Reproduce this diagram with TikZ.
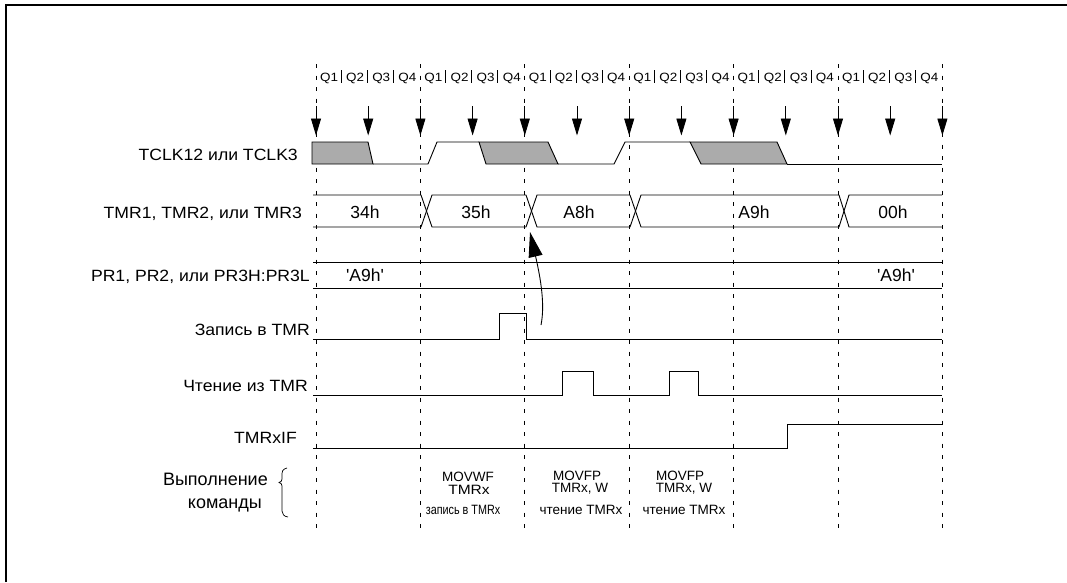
\documentclass[tikz,border=0pt]{standalone}
\usepackage{fontspec}
\setmainfont{Liberation Sans}
\newfontfamily\lblfont[FakeStretch=1.08]{Liberation Sans}
\newfontfamily\qfont[FakeStretch=1.12]{Liberation Sans}
\newfontfamily\instrwide[FakeStretch=1.15]{Liberation Sans}
\newfontfamily\instrnarrow[FakeStretch=0.8]{Liberation Sans}
\usetikzlibrary{arrows.meta}

\begin{document}
\begin{tikzpicture}[x=1pt,y=-1pt,
  lbl/.style={anchor=base east,inner sep=0pt,font=\lblfont\fontsize{16.3}{18}\selectfont},
  val/.style={anchor=base,inner sep=0pt,font=\fontsize{17.5}{19}\selectfont},
  qlbl/.style={anchor=base,inner sep=0pt,font=\qfont\fontsize{12}{14}\selectfont},
  instr/.style={anchor=base,inner sep=0pt,font=\fontsize{13.5}{14}\selectfont},
  exec/.style={anchor=base east,inner sep=0pt,font=\fontsize{18}{20}\selectfont},
  gridline/.style={line width=0.8pt,dash pattern=on 4pt off 7.5pt},
  sig/.style={line width=0.9pt},
  clkarrow/.style={line width=0.9pt,-{Triangle[length=17pt,width=10pt]}},
  shade/.style={sig,fill=black!33},
  ]
\useasboundingbox (0,0) rectangle (1067,582);
% frame
\draw[line width=2.3pt] (6,582) -- (6,5) -- (1067,5);
% grid
\foreach \i in {0,...,6} \draw[gridline] ({316+104.4*\i},64) -- ({316+104.4*\i},530);
% Q labels
\foreach \i in {0,...,5} {
  \foreach \q in {1,...,4} \node[qlbl] (q\i\q) at ({316+104.4*\i+26.1*(\q-0.5)},81) {Q\q};
  \foreach \q in {1,2,3} \draw[line width=0.8pt] ({316+104.4*\i+26.1*\q-1},70) -- ++(0,12.5);
}
% clock arrows
\foreach \k in {0,...,12} {
  \coordinate (ca\k) at ({316+52.2*\k},106);
  \coordinate (cb\k) at ({316+52.2*\k},135.5);
  \draw[clkarrow] (ca\k) -- (cb\k);
}
% TCLK
\draw[shade] (312,142) -- (368,142) -- (373,164) -- (312,164) -- cycle;
\draw[sig] (373,164) -- (428,164) -- (437,142) -- (479,142);
\draw[shade] (479,142) -- (548,142) -- (558,164) -- (486,164) -- cycle;
\draw[sig] (558,164) -- (614,164) -- (625,142) -- (690,142);
\draw[shade] (690,142) -- (777,142) -- (787,164) -- (701,164) -- cycle;
\draw[sig] (787,164) -- (942,164);
% TMR bus
\draw[sig] (313,195) -- (421,195) -- (432,227) -- (526,227) -- (537,195) -- (630,195) -- (641,227) -- (839,227) -- (849,195) -- (942,195);
\draw[sig] (313,227) -- (421,227) -- (432,195) -- (526,195) -- (537,227) -- (630,227) -- (641,195) -- (839,195) -- (849,227) -- (942,227);
\node[val] (v1) at (365,218.3) {34h};
\node[val] (v2) at (476,218.3) {35h};
\node[val] (v3) at (579,218.3) {A8h};
\node[val] (v4) at (754,218.3) {A9h};
\node[val] (v5) at (893,218.3) {00h};
% PR
\draw[sig] (313,262) -- (942,262);
\draw[sig] (313,288) -- (942,288);
\node[val] (p1) at (365,281.7) {\textquotesingle A9h\textquotesingle};
\node[val] (p2) at (896,281.7) {\textquotesingle A9h\textquotesingle};
% write
\draw[sig] (313,339.3) -- (499.3,339.3) -- (499.3,313.3) -- (526.7,313.3) -- (526.7,339.3) -- (942,339.3);
% read
\draw[sig] (313,395.7) -- (562,395.7) -- (562,371) -- (593,371) -- (593,395.7) -- (669.5,395.7) -- (669.5,371) -- (698.5,371) -- (698.5,395.7) -- (942,395.7);
% TMRxIF
\draw[sig] (313,448.3) -- (787.7,448.3) -- (787.7,424) -- (942,424);
% curved arrow
\coordinate (wa) at (541,325);
\coordinate (wb) at (530,232);
\draw[line width=0.9pt,-{Triangle[length=25pt,width=14pt]}] (wa) .. controls (545,305) and (541,280) .. (wb);
% labels
\node[lbl] (tclk) at (298,160) {TCLK12 или TCLK3};
\node[lbl] (tmr) at (302,218.3) {TMR1, TMR2, или TMR3};
\node[lbl] (pr) at (310,281.7) {PR1, PR2, или PR3H:PR3L};
\node[lbl] (wr) at (310,335) {Запись в TMR};
\node[lbl] (rd) at (308,391.7) {Чтение из TMR};
\node[lbl] (ifl) at (297,443.3) {TMRxIF};
% execution
\node[exec] (ex1) at (268,485) {Выполнение};
\node[exec] (ex2) at (262,508) {команды};
\draw[line width=0.7pt] (287,468) .. controls (282,469) and (282,472) .. (282,476) -- (282,479) .. controls (282,481) and (281,482) .. (279,482.5) .. controls (281,483) and (282,484) .. (282,486) -- (282,511) .. controls (282,514) and (284,516.5) .. (288,517);
\node[instr] (i1) at (468,481.7) {MOVWF};
\node[instr,font=\instrwide\fontsize{13.5}{14}\selectfont] (i2) at (469,494.5) {TMRx};
\node[instr,font=\instrnarrow\fontsize{13.5}{14}\selectfont] (i3) at (463,514) {запись в TMRx};
\node[instr] (i4) at (577,480) {MOVFP};
\node[instr] (i5) at (580,492) {TMRx, W};
\node[instr] (i6) at (581,514) {чтение TMRx};
\node[instr] (i7) at (680,480) {MOVFP};
\node[instr] (i8) at (684,492) {TMRx, W};
\node[instr] (i9) at (684,514) {чтение TMRx};
\end{tikzpicture}
\end{document}
